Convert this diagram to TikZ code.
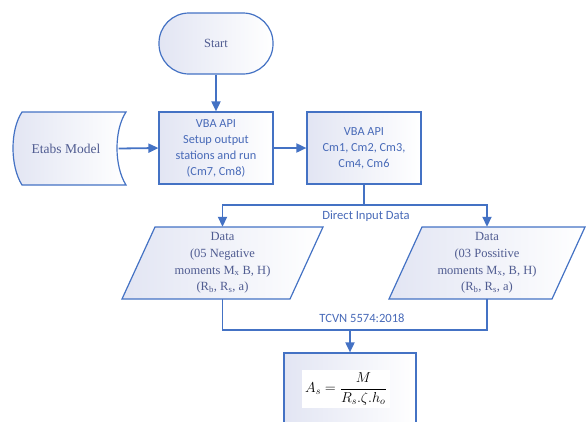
\documentclass[tikz,border=0pt]{standalone}
\usepackage{fontspec}
\setmainfont{Liberation Serif}
\setsansfont{Carlito}
\usetikzlibrary{arrows.meta,calc}
\definecolor{lineblue}{RGB}{68,114,196}
\definecolor{boxfill}{RGB}{226,229,243}
\definecolor{txtserif}{RGB}{80,92,145}
\definecolor{txtsans}{RGB}{72,106,184}
\tikzset{
  shapeline/.style={draw=lineblue, line width=1.2pt, left color=boxfill, middle color=white!80!boxfill, right color=white},
  conn/.style={draw=lineblue, line width=1.8pt},
  arrowconn/.style={conn, -{Triangle[length=10pt,width=9pt]}},
  terminal/.style={shapeline, rounded corners=30pt, minimum width=114pt, minimum height=61pt,
     font=\fontsize{12.5}{16}\selectfont, text=txtserif},
  procbox/.style={shapeline, minimum width=114pt, minimum height=72pt, align=center,
     font=\sffamily\fontsize{12.3}{16}\selectfont, text=txtsans},
  serifbox/.style={minimum width=100pt, minimum height=72pt, align=center, inner sep=0pt,
     font=\fontsize{12.5}{16.7}\selectfont, text=txtserif},
  lbl/.style={font=\sffamily\fontsize{12.6}{14}\selectfont, text=txtsans, inner sep=0pt}
}
\begin{document}
\begin{tikzpicture}[x=1pt,y=-1pt]
\useasboundingbox (0,0) rectangle (587,421);
\clip (0,0) rectangle (587,421);

% Start
\node[terminal] (start) at (216,43.5) {Start};

% Etabs model (stored data shape)
\path[shapeline] (22,112) -- (126,112) .. controls (114,130) and (114,166) .. (126,185)
   -- (22,185) .. controls (10,166) and (10,130) .. (22,112) -- cycle;
\node[serifbox, minimum width=105pt, minimum height=73pt, font=\fontsize{13.5}{16}\selectfont] (etabs) at (66,148.5) {Etabs Model};

% VBA boxes
\node[procbox] (vba1) at (216,148) {VBA API\\Setup output\\stations and run\\(Cm7, Cm8)};
\node[procbox] (vba2) at (364,148) {VBA API\\Cm1, Cm2, Cm3,\\Cm4, Cm6};

% Data parallelograms
\path[shapeline] (122,299) -- (155,227) -- (323,227) -- (290,299) -- cycle;
\node[serifbox] (dl) at (222.5,263) {Data\\(05 Negative\\moments M\textsubscript{x} B, H)\\(R\textsubscript{b}, R\textsubscript{s}, a)};
\path[shapeline] (389,299) -- (422,227) -- (585,227) -- (552,299) -- cycle;
\node[serifbox] (dr) at (487,263) {Data\\(03 Possitive\\moments M\textsubscript{x}, B, H)\\(R\textsubscript{b}, R\textsubscript{s}, a)};

% Formula box
\node[shapeline, minimum width=132pt, minimum height=90pt] (formula) at (350,398) {};
\node[fill=white, inner sep=3pt, font=\fontsize{14.5}{16}\selectfont] (eq) at (346,389)
   {$\displaystyle A_s=\frac{M}{R_s.\zeta.h_o}$};

% junctions
\coordinate (j1) at (364,205);
\coordinate (j2) at (350,330);

% connectors
\draw[arrowconn] (start.south) -- (vba1.north);
\draw[arrowconn] (etabs.east) -- (vba1.west);
\draw[arrowconn] (vba1.east) -- (vba2.west);
\draw[conn] (vba2.south) -- (j1);
\draw[arrowconn] (j1) -| (dl.north);
\draw[arrowconn] (j1) -| (dr.north);
\draw[conn] (dl.south) |- (j2) -| (dr.south);
\draw[arrowconn] (j2) -- (formula.north);

% labels
\node[lbl] (l1) at (366,216) {Direct Input Data};
\node[lbl] (l2) at (362,318) {TCVN 5574:2018};
\end{tikzpicture}
\end{document}
